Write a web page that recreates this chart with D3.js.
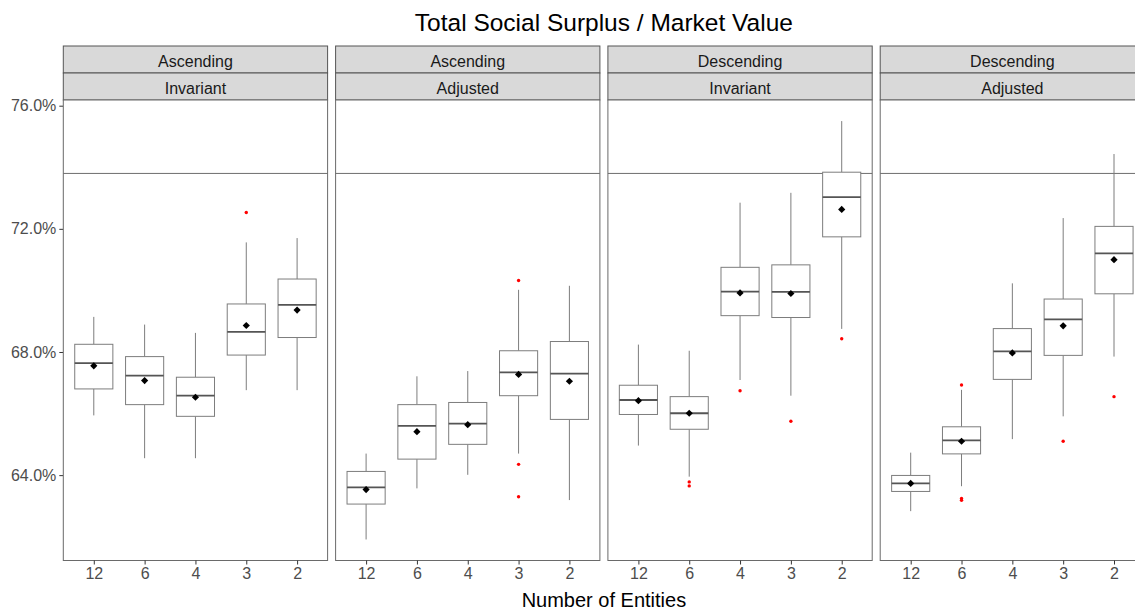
<!DOCTYPE html>
<html>
<head>
<meta charset="utf-8">
<script src="https://cdn.jsdelivr.net/npm/d3@7"></script>
<style>
  html, body { margin: 0; padding: 0; background: #fff; }
  svg { display: block; font-family: "Liberation Sans", Arial, sans-serif; }
</style>
</head>
<body>
<svg id="chart" width="1135" height="611"></svg>
<script>
// Facet labels (two strip rows) and x categories
const facetTop = ["Ascending", "Ascending", "Descending", "Descending"];
const facetBottom = ["Invariant", "Adjusted", "Invariant", "Adjusted"];
const categories = ["12", "6", "4", "3", "2"];
const yTicks = [64, 68, 72, 76];
const referenceLine = 73.8;

// Box statistics per facet (rows) and category (columns), in percent
const whiskerLow = [
  [65.94, 64.55, 64.55, 66.76, 66.76],
  [61.91, 63.57, 64.01, 64.70, 63.19],
  [64.96, 63.95, 67.09, 66.58, 68.75],
  [62.83, 63.64, 65.17, 65.91, 67.85]
];
const q1 = [
  [66.80, 66.29, 65.91, 67.90, 68.47],
  [63.06, 64.52, 65.00, 66.58, 65.81],
  [65.97, 65.49, 69.18, 69.12, 71.74],
  [63.47, 64.69, 67.11, 67.89, 69.89]
];
const median = [
  [67.64, 67.23, 66.58, 68.65, 69.53],
  [63.60, 65.60, 65.67, 67.34, 67.30],
  [66.44, 66.01, 69.96, 69.95, 73.03],
  [63.73, 65.13, 68.02, 69.06, 71.20]
];
const q3 = [
  [68.25, 67.85, 67.18, 69.56, 70.37],
  [64.12, 66.29, 66.36, 68.04, 68.34],
  [66.92, 66.55, 70.75, 70.83, 73.84],
  [63.99, 65.57, 68.76, 69.72, 72.08]
];
const whiskerHigh = [
  [69.14, 68.89, 68.62, 71.56, 71.70],
  [64.70, 67.21, 67.38, 70.02, 70.15],
  [68.24, 68.04, 72.85, 73.17, 75.50],
  [64.73, 66.77, 70.23, 72.35, 74.43]
];
const means = [
  [67.55, 67.07, 66.53, 68.86, 69.36],
  [63.53, 65.41, 65.64, 67.27, 67.05],
  [66.42, 66.01, 69.92, 69.90, 72.63],
  [63.73, 65.10, 67.97, 68.85, 71.00]
];
const outliers = [
  [[], [], [], [72.53], []],
  [[], [], [], [70.32, 64.35, 63.30], []],
  [[], [63.78, 63.65], [66.74], [65.75], [68.43]],
  [[], [66.93, 63.24, 63.18], [], [65.10], [66.55]]
];

// Layout
const panelLeft = 63.3, panelWidth = 264.3, panelGap = 8;
const stripTop = 46, stripH = 27, panelTop = 100, panelBottom = 560.5;

const svg = d3.select("#chart");

const y = d3.scaleLinear()
  .domain([61.227, 76.185])
  .range([panelBottom, panelTop]);

const x = d3.scalePoint()
  .domain(categories)
  .range([0, panelWidth])
  .padding(0.6);

const boxW = x.step() * 0.75;
const boxColor = "#7d7d7d";
const diamond = "M0,-3.6L3.6,0L0,3.6L-3.6,0Z";

// Title
svg.append("text")
  .attr("x", panelLeft + (4 * panelWidth + 3 * panelGap) / 2)
  .attr("y", 31)
  .attr("text-anchor", "middle")
  .attr("font-size", 24.5)
  .attr("fill", "#000")
  .text("Total Social Surplus / Market Value");

// Axis title
svg.append("text")
  .attr("x", panelLeft + (4 * panelWidth + 3 * panelGap) / 2)
  .attr("y", 607)
  .attr("text-anchor", "middle")
  .attr("font-size", 20)
  .attr("fill", "#000")
  .text("Number of Entities");

// Y axis on the first panel
const yAxis = svg.append("g")
  .attr("transform", `translate(${panelLeft},0)`)
  .call(d3.axisLeft(y).tickValues(yTicks).tickSize(4).tickPadding(3)
    .tickFormat(d => d.toFixed(1) + "%"));
yAxis.select(".domain").remove();
yAxis.selectAll(".tick line").attr("stroke", "#333");
yAxis.selectAll(".tick text")
  .attr("font-size", 16)
  .attr("fill", "#4d4d4d")
  .attr("font-family", "Liberation Sans, Arial, sans-serif");

facetTop.forEach((label, i) => {
  const px = panelLeft + i * (panelWidth + panelGap);
  const g = svg.append("g").attr("transform", `translate(${px},0)`);

  // Strips
  [label, facetBottom[i]].forEach((t, r) => {
    const sy = stripTop + r * stripH;
    g.append("rect")
      .attr("x", 0).attr("y", sy)
      .attr("width", panelWidth).attr("height", stripH)
      .attr("fill", "#d9d9d9")
      .attr("stroke", "#555").attr("stroke-width", 1);
    g.append("text")
      .attr("x", panelWidth / 2)
      .attr("y", sy + 20.5)
      .attr("text-anchor", "middle")
      .attr("font-size", 16)
      .attr("fill", "#1a1a1a")
      .text(t);
  });

  // Panel background
  g.append("rect")
    .attr("x", 0).attr("y", panelTop)
    .attr("width", panelWidth).attr("height", panelBottom - panelTop)
    .attr("fill", "#fff");

  // Reference line
  g.append("line")
    .attr("x1", 0).attr("x2", panelWidth)
    .attr("y1", y(referenceLine)).attr("y2", y(referenceLine))
    .attr("stroke", "#6e6e6e").attr("stroke-width", 1);

  categories.forEach((c, j) => {
    const cx = x(c);
    // whiskers
    g.append("line")
      .attr("x1", cx).attr("x2", cx)
      .attr("y1", y(whiskerHigh[i][j])).attr("y2", y(q3[i][j]))
      .attr("stroke", boxColor).attr("stroke-width", 1);
    g.append("line")
      .attr("x1", cx).attr("x2", cx)
      .attr("y1", y(q1[i][j])).attr("y2", y(whiskerLow[i][j]))
      .attr("stroke", boxColor).attr("stroke-width", 1);
    // box
    g.append("rect")
      .attr("x", cx - boxW / 2)
      .attr("y", y(q3[i][j]))
      .attr("width", boxW)
      .attr("height", y(q1[i][j]) - y(q3[i][j]))
      .attr("fill", "#fff")
      .attr("stroke", boxColor).attr("stroke-width", 1);
    // median
    g.append("line")
      .attr("x1", cx - boxW / 2).attr("x2", cx + boxW / 2)
      .attr("y1", y(median[i][j])).attr("y2", y(median[i][j]))
      .attr("stroke", "#555").attr("stroke-width", 1.8);
    // outliers
    outliers[i][j].forEach(v => {
      g.append("circle")
        .attr("cx", cx).attr("cy", y(v))
        .attr("r", 1.7)
        .attr("fill", "#ff0000");
    });
    // mean marker
    g.append("path")
      .attr("d", diamond)
      .attr("transform", `translate(${cx},${y(means[i][j])})`)
      .attr("fill", "#000");
  });

  // Panel border
  g.append("rect")
    .attr("x", 0).attr("y", panelTop)
    .attr("width", panelWidth).attr("height", panelBottom - panelTop)
    .attr("fill", "none")
    .attr("stroke", "#6a6a6a").attr("stroke-width", 1);

  // X axis
  const xAxis = g.append("g")
    .attr("transform", `translate(0,${panelBottom})`)
    .call(d3.axisBottom(x).tickSize(4).tickPadding(3));
  xAxis.select(".domain").remove();
  xAxis.selectAll(".tick line").attr("stroke", "#333");
  xAxis.selectAll(".tick text")
    .attr("font-size", 16)
    .attr("fill", "#4d4d4d")
    .attr("font-family", "Liberation Sans, Arial, sans-serif");
});
</script>
</body>
</html>
